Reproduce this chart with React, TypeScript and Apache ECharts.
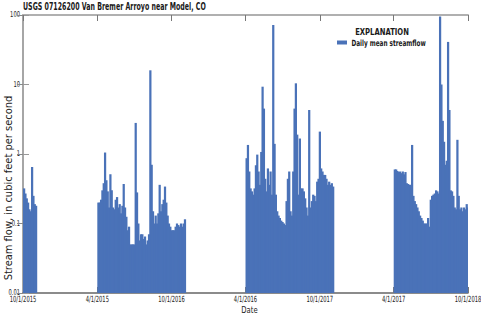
import { useEffect, useRef } from "react";
import * as echarts from "echarts";

const TITLE = "USGS 07126200 Van Bremer Arroyo near Model, CO";
const Y_NAME = "Stream flow, in cubic feet per second";
const X_NAME = "Date";
const LEGEND_TITLE = "EXPLANATION";
const SERIES_NAME = "Daily mean streamflow";

// x axis: days since 10/1/2015
const tickDays = [0, 183, 366, 548, 731, 913, 1096];
const tickLabels = ["10/1/2015", "4/1/2015", "10/1/2016", "4/1/2016", "10/1/2017", "4/1/2017", "10/1/2018"];
const yTicks = [100, 10, 1, 0.1, 0.01];
const yTickLabels = ["100", "10", "1", "0.1", "0.01"];
const X_MIN = 0;
const X_MAX = 1096;
const Y_MIN = 0.01;
const Y_MAX = 100;
const SAMPLE_DAYS = 3.28;

const season1Start = 0;
const season1 = [0.32, 0.27, 0.23, 0.2, 0.16, 0.15, 0.65, 0.25, 0.19, 0.18];

const season2Start = 183;
const season2 = [
  0.2, 0.2, 0.22, 0.3, 0.38, 1.05, 0.42, 0.29, 0.17, 0.51,
  0.3, 0.17, 0.16, 0.22, 0.24, 0.17, 0.19, 0.14, 0.18, 0.37,
  0.17, 0.125, 0.08, 0.09, 0.05, 0.05, 0.05, 0.05, 2.8, 0.28,
  0.1, 0.057, 0.07, 0.07, 0.06, 0.065, 0.05, 0.057, 0.07, 16,
  0.7, 0.15, 0.1, 0.13, 0.1, 0.14, 0.36, 0.15, 0.19, 0.22,
  0.34, 0.2, 0.13, 0.1, 0.09, 0.08, 0.08, 0.08, 0.09, 0.1,
  0.095, 0.09, 0.1, 0.09, 0.1, 0.115,
];

const season3Start = 548;
const season3 = [
  0.87, 1.35, 0.56, 0.32, 0.29, 0.26, 0.32, 0.69, 0.98, 0.56,
  0.36, 1.07, 9.3, 4.5, 0.44, 0.29, 0.62, 0.36, 0.56, 0.26,
  72, 1.4, 0.26, 0.15, 0.13, 0.12, 0.11, 0.105, 0.1, 0.095,
  0.21, 0.44, 0.56, 0.15, 0.13, 0.56, 4.5, 10.4, 1.9, 0.26,
  1.67, 0.32, 0.32, 0.29, 0.23, 0.17, 0.13, 4.3, 0.17, 0.21,
  0.26, 0.25, 0.21, 0.4, 0.44, 2.1, 0.62, 0.56, 0.5, 0.5,
  0.44, 0.36, 0.4, 0.36, 0.38, 0.34,
];

const season4Start = 913;
const season4 = [
  0.6, 0.6, 0.57, 0.55, 0.56, 0.53, 0.56, 0.51, 0.55, 0.38,
  0.37, 0.36, 0.36, 1.35, 0.25, 0.21, 0.19, 0.17, 0.15, 0.13,
  0.12, 0.11, 0.1, 0.1, 0.1, 0.12, 0.09, 0.22, 0.25, 0.26,
  0.27, 0.3, 0.29, 0.27, 95, 10, 3, 1.5, 0.7, 0.8,
  41, 4.3, 0.3, 0.29, 0.25, 0.17, 0.16, 1.6, 0.25, 0.16,
  0.17, 0.15, 0.17, 0.16, 0.19, 0.17,
];

const BAR_COLOR = "#4a72b8";
const FONT = "'DejaVu Sans Condensed', 'DejaVu Sans', sans-serif";

function buildData(): number[][] {
  const out: number[][] = [];
  const seasons: [number, number[]][] = [
    [season1Start, season1],
    [season2Start, season2],
    [season3Start, season3],
    [season4Start, season4],
  ];
  for (const [start, vals] of seasons) {
    vals.forEach((v, i) => out.push([start + i * SAMPLE_DAYS, v]));
  }
  return out;
}

function narrowText(x: number, y: number, text: string, font: string, scaleX: number, align: string, extra: any = {}) {
  return {
    type: "text",
    x,
    y,
    scaleX,
    silent: true,
    style: { text, font, fill: "#1a1a1a", align, verticalAlign: "middle", ...extra },
  };
}

export default function App() {
  const ref = useRef<HTMLDivElement>(null);
  useEffect(() => {
    if (!ref.current) return;
    const chart = echarts.init(ref.current, null, { renderer: "svg" });
    const tickStyle = { color: "#777", width: 1 };
    chart.setOption({
      animation: false,
      backgroundColor: "#fff",
      textStyle: { fontFamily: FONT },
      grid: { left: 23, right: 13, top: 15, bottom: 23, containLabel: false, outerBoundsMode: "none" },
      xAxis: [
        {
          type: "value",
          position: "bottom",
          min: X_MIN,
          max: X_MAX,
          splitLine: { show: false },
          axisLine: { show: true, lineStyle: { color: "#666", width: 1.5 } },
          axisTick: { show: true, inside: true, length: 6, customValues: tickDays, lineStyle: tickStyle },
          axisLabel: { show: false },
        },
        {
          type: "value",
          position: "top",
          min: X_MIN,
          max: X_MAX,
          splitLine: { show: false },
          axisLine: { show: true, lineStyle: { color: "#b0b0b0", width: 2 } },
          axisTick: { show: true, inside: true, length: 6, customValues: tickDays, lineStyle: tickStyle },
          axisLabel: { show: false },
        },
      ],
      yAxis: [
        {
          type: "log",
          logBase: 10,
          min: Y_MIN,
          max: Y_MAX,
          position: "left",
          splitLine: { show: false },
          axisLine: { show: true, lineStyle: { color: "#a0a0a0", width: 1.5 } },
          axisTick: { show: true, inside: true, length: 6, lineStyle: { color: "#999", width: 1 } },
          axisLabel: { show: false },
        },
        {
          type: "log",
          logBase: 10,
          min: Y_MIN,
          max: Y_MAX,
          position: "right",
          splitLine: { show: false },
          axisLine: { show: true, lineStyle: { color: "#a0a0a0", width: 1.5 } },
          axisTick: { show: true, inside: true, length: 6, lineStyle: { color: "#888", width: 1 } },
          axisLabel: { show: false },
        },
      ],
      series: [
        {
          type: "custom",
          name: SERIES_NAME,
          xAxisIndex: 0,
          yAxisIndex: 0,
          clip: true,
          itemStyle: { color: BAR_COLOR },
          encode: { x: 0, y: 1 },
          data: buildData(),
          renderItem: (_params: any, api: any) => {
            const d = api.value(0);
            const v = api.value(1);
            const p1 = api.coord([d, v]);
            const p2 = api.coord([d + SAMPLE_DAYS, Y_MIN]);
            return {
              type: "rect",
              shape: { x: p1[0], y: p1[1], width: p2[0] - p1[0] + 0.9, height: p2[1] - p1[1] },
              style: { fill: BAR_COLOR },
            };
          },
        },
      ],
    });

    // tick labels placed through the axes' own scales, drawn narrow like the reference
    const xLabelEls = tickDays.map((d, i) => {
      const px = chart.convertToPixel({ xAxisIndex: 0 }, d) as number;
      return narrowText(px, 299.5, tickLabels[i], `8.5px ${FONT}`, 0.68, "center");
    });
    const yLabelEls = yTicks.map((v, i) => {
      const py = chart.convertToPixel({ yAxisIndex: 0 }, v) as number;
      return narrowText(20, py, yTickLabels[i], `8px ${FONT}`, 0.72, "right");
    });

    chart.setOption({
      graphic: [
        narrowText(23, 7, TITLE, `bold 10px ${FONT}`, 0.7, "left"),
        narrowText(382, 31.5, LEGEND_TITLE, `bold 9.5px ${FONT}`, 0.8, "center"),
        {
          type: "rect",
          silent: true,
          shape: { x: 337, y: 40.5, width: 10, height: 4 },
          style: { fill: BAR_COLOR },
        },
        narrowText(351.5, 43, SERIES_NAME, `bold 8.5px ${FONT}`, 0.75, "left"),
        {
          type: "text",
          x: 8,
          y: 188,
          rotation: Math.PI / 2,
          silent: true,
          style: { text: Y_NAME, font: `11px ${FONT}`, fill: "#222", align: "center", verticalAlign: "middle" },
        },
        narrowText(249.5, 310, X_NAME, `9.5px ${FONT}`, 0.8, "center", { fill: "#222" }),
        ...xLabelEls,
        ...yLabelEls,
      ],
    });
    return () => chart.dispose();
  }, []);
  return (
    <div
      ref={ref}
      style={{ position: "absolute", left: 0, top: 0, width: 481, height: 316 }}
    />
  );
}
